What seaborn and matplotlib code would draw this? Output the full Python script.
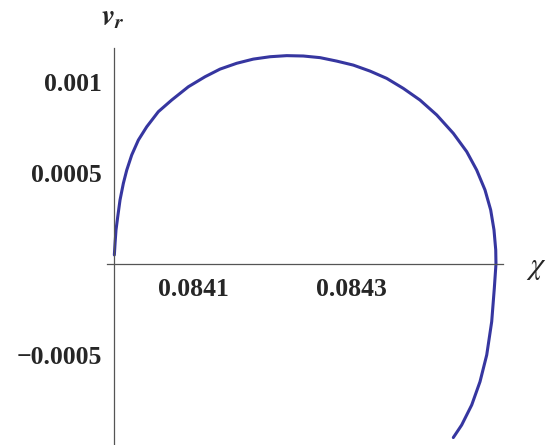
import numpy as np
import pandas as pd
import seaborn as sns
import matplotlib.pyplot as plt

# curve (chi, v_r)
chi = [0.0840004, 0.0840013, 0.0840025, 0.0840047, 0.0840076, 0.0840118,
       0.0840161, 0.0840224, 0.0840308, 0.0840414, 0.0840561, 0.0840730,
       0.0840941, 0.0841152, 0.0841342, 0.0841553, 0.0841763, 0.0841975,
       0.0842186, 0.0842396, 0.0842608, 0.0842819, 0.0843029, 0.0843241,
       0.0843452, 0.0843662, 0.0843873, 0.0844085, 0.0844295, 0.0844465,
       0.0844591, 0.0844696, 0.0844768, 0.0844810, 0.0844832, 0.0844835,
       0.0844814, 0.0844781, 0.0844718, 0.0844633, 0.0844528, 0.0844401,
       0.0844295]
v_r = [0.0000495, 0.000114, 0.000187, 0.000260, 0.000352, 0.000443,
       0.000516, 0.000599, 0.000681, 0.000754, 0.000837, 0.000901,
       0.000974, 0.001029, 0.001071, 0.001103, 0.001126, 0.001139,
       0.001145, 0.001143, 0.001134, 0.001115, 0.001093, 0.001060,
       0.001020, 0.000965, 0.000901, 0.000819, 0.000718, 0.000617,
       0.000516, 0.000407, 0.000297, 0.000187, 0.000077, 0.0,
       -0.000134, -0.000317, -0.000500, -0.000647, -0.000775, -0.000885,
       -0.000954]

xticks = [0.0841, 0.0843]
xtick_labels = ["0.0841", "0.0843"]
yticks = [-0.0005, 0.0005, 0.001]
ytick_labels = ["\u22120.0005", "0.0005", "0.001"]

df = pd.DataFrame({"chi": chi, "v_r": v_r})

sns.set_style("white")
plt.rcParams["font.family"] = ["Liberation Serif", "DejaVu Serif"]
plt.rcParams["mathtext.fontset"] = "stix"

fig = plt.figure(figsize=(5.5, 4.45), dpi=100)
ax = fig.add_axes([107 / 550, 0.0, (503 - 107) / 550, (445 - 48) / 445])

sns.lineplot(data=df, x="chi", y="v_r", sort=False, estimator=None,
             color="#3636a0", linewidth=2.2, ax=ax)

ax.set_xlim(0.0839911, 0.0844924)
ax.set_ylim(-0.000995, 0.001187)

for s in ["top", "right"]:
    ax.spines[s].set_visible(False)
ax.spines["left"].set_position(("data", 0.0840))
ax.spines["bottom"].set_position(("data", 0.0))
for s in ["left", "bottom"]:
    ax.spines[s].set_color("#555555")
    ax.spines[s].set_linewidth(0.9)

ax.set_xticks(xticks)
ax.set_xticklabels(xtick_labels, fontsize=18.5, fontweight="bold")
ax.set_yticks(yticks)
ax.set_yticklabels(ytick_labels, fontsize=18.5, fontweight="bold")
ax.tick_params(axis="x", direction="in", length=5, width=0.8, color="#555555", pad=10)
ax.tick_params(axis="y", direction="in", length=5, width=0.8, color="#555555", pad=9)
ax.set_xlabel("")
ax.set_ylabel("")

fig.text(113 / 550, 1 - 18 / 445, r"$\mathbfit{v}_{\mathbfit{r}}$", fontsize=21,
         ha="center", va="center")
fig.text(536 / 550, 1 - 268 / 445, r"$\chi$", fontsize=22, ha="center", va="center")

fig.savefig("out.png", dpi=100)
